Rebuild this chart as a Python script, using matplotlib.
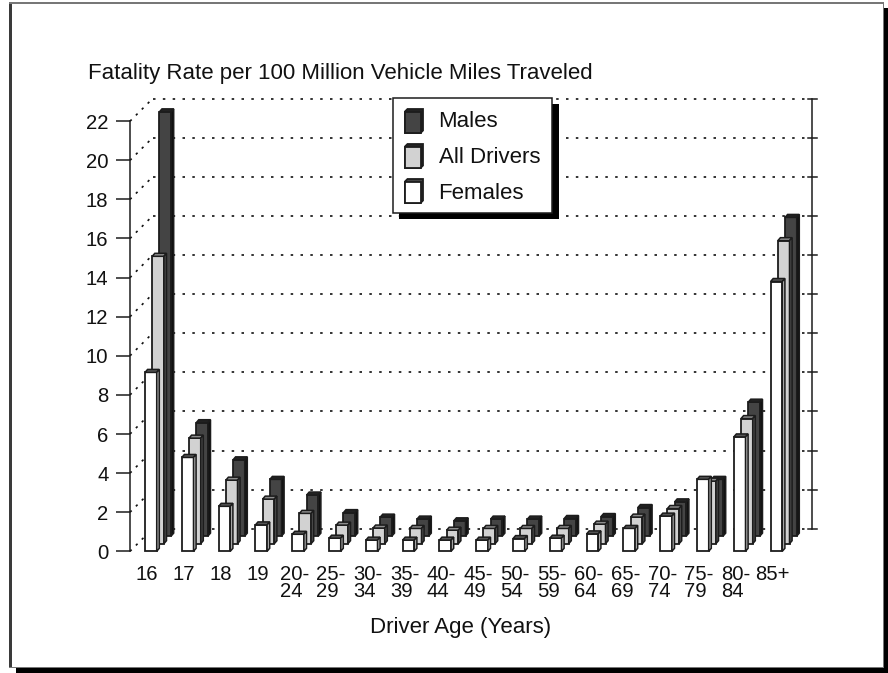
# Fatality rate by driver age, pseudo-3D bar chart
import matplotlib
matplotlib.use("Agg")
import matplotlib.pyplot as plt
from matplotlib.patches import Rectangle, Polygon
from matplotlib.transforms import Affine2D
import numpy as np

plt.rcParams["font.family"] = ["Liberation Sans", "DejaVu Sans"]

# ---------------- DATA ---------------- #
age_labels = ["16", "17", "18", "19", "20-\n24", "25-\n29", "30-\n34", "35-\n39", "40-\n44",
              "45-\n49", "50-\n54", "55-\n59", "60-\n64", "65-\n69", "70-\n74", "75-\n79",
              "80-\n84", "85+"]
females = [9.15, 4.8, 2.3, 1.35, 0.87, 0.67, 0.57, 0.57, 0.57,
           0.57, 0.65, 0.67, 0.89, 1.17, 1.8, 3.68, 5.85, 13.8]
all_drivers = [14.7, 5.4, 3.25, 2.28, 1.55, 0.95, 0.8, 0.78, 0.69,
               0.78, 0.78, 0.78, 1.0, 1.36, 1.8, 3.2, 6.4, 15.5]
males = [21.7, 5.8, 3.9, 2.9, 2.1, 1.2, 0.97, 0.87, 0.78,
         0.87, 0.87, 0.9, 1.0, 1.46, 1.75, 2.9, 6.85, 16.3]
y_ticks = list(range(0, 23, 2))

W, H = 888, 673
PITCH = 36.8      # px per age group
UNIT = 19.55      # px per rate unit
BAR_W = 11.7 / PITCH
SIDE_X, SIDE_Y = 2.6 / PITCH, 3.0 / UNIT
STEP_X, STEP_Y = 7.2 / PITCH, 7.6 / UNIT
BACK_X, BACK_Y = 22.5 / PITCH, 22.5 / UNIT
EDGE = "#1c1c1c"
TEXT_SIZE = 16
TICK_SIZE = 14.6

fig = plt.figure(figsize=(W / 100, H / 100), dpi=100)
px = Affine2D().scale(1 / W, -1 / H).translate(0, 1) + fig.transFigure


def box(x0, y0, x1, y1, fc, ec="none", lw=0, z=-1):
    fig.add_artist(Rectangle((x0, y0), x1 - x0, y1 - y0, transform=px, fc=fc, ec=ec, lw=lw, zorder=z))


def label(x, y, s, z=6, **kw):
    fig.text(x, y, s, transform=px, fontsize=TEXT_SIZE, color="#111111", va="center", zorder=z, **kw)


# frame and its shadow
box(16, 8, 888, 673, "black", z=-3)
box(9, 2, 883.5, 668, "white", z=-2)
box(9, 2, 12, 668, "#3a3a3a")
box(9, 2, 883.5, 3.5, "#777777")
box(882.5, 2, 883.5, 668, "#777777")
box(9, 666.8, 883.5, 668, "#777777")

# ---------------- CHART ---------------- #
left, right, bottom, top = 130, 812, 551.3, 551.3 - 22 * UNIT
ax = fig.add_axes([left / W, 1 - bottom / H, (right - left) / W, (bottom - top) / H])
ax.patch.set_visible(False)
ax.set_xlim((left - 145) / PITCH, (right - 145) / PITCH)
ax.set_ylim(0, 22)
for name in ["top", "right", "bottom"]:
    ax.spines[name].set_visible(False)
ax.spines["left"].set_linewidth(1.1)
ax.spines["left"].set_color(EDGE)

xlo, xhi = ax.get_xlim()
for v in y_ticks:
    # dotted floor/wall lines running from the front axis to the back wall
    ax.plot([xlo, xlo + BACK_X], [v, v + BACK_Y], color="#111111", lw=1.2,
            dashes=(1.4, 3.6), clip_on=False, zorder=1)
    ax.plot([xlo + BACK_X, xhi], [v + BACK_Y, v + BACK_Y], color="#111111", lw=1.2,
            dashes=(1.5, 4.4), clip_on=False, zorder=1)
    ax.plot([xhi - 4 / PITCH, xhi + 5 / PITCH], [v + BACK_Y, v + BACK_Y], color=EDGE, lw=1.1,
            clip_on=False, zorder=1)
ax.plot([xhi, xhi], [BACK_Y, 22 + BACK_Y], color=EDGE, lw=1.1, clip_on=False, zorder=1)

series = [(males, 2, "#444444", "#222222", "#111111"),
          (all_drivers, 1, "#d2d2d2", "#8c8c8c", "#4a4a4a"),
          (females, 0, "white", "#555555", "#b0b0b0")]

z = 2
for g in range(len(age_labels)):
    for values, k, face, top_c, side_c in series:
        x0 = g + k * STEP_X
        y0 = k * STEP_Y
        v = values[g]
        ax.bar(x0, v, BAR_W, bottom=y0, align="edge", color=face, edgecolor=EDGE,
               linewidth=1.3, zorder=z, clip_on=False)
        y1 = y0 + v
        x1 = x0 + BAR_W
        ax.add_patch(Polygon([(x0, y1), (x0 + SIDE_X, y1 + SIDE_Y), (x1 + SIDE_X, y1 + SIDE_Y), (x1, y1)],
                             fc=top_c, ec=EDGE, lw=1.1, zorder=z, clip_on=False))
        ax.add_patch(Polygon([(x1, y0), (x1 + SIDE_X, y0 + SIDE_Y), (x1 + SIDE_X, y1 + SIDE_Y), (x1, y1)],
                             fc=side_c, ec=EDGE, lw=1.1, zorder=z, clip_on=False))
        z += 1

ax.set_yticks(y_ticks)
ax.tick_params(axis="y", length=10, width=1.1, color=EDGE, pad=5.5, labelsize=TICK_SIZE, labelcolor="#111111")
ax.set_xticks(np.arange(len(age_labels)) + 2 / PITCH)
ax.set_xticklabels(age_labels, fontsize=TICK_SIZE, color="#111111", linespacing=0.88, ma="left")
ax.tick_params(axis="x", length=0, pad=10)

label(88, 73, "Fatality Rate per 100 Million Vehicle Miles Traveled", ha="left")
label(461, 627, "Driver Age (Years)", ha="center")

# ---------------- LEGEND ---------------- #
box(399, 104, 559, 219, "black", z=4)
box(393, 97.5, 552, 212.5, "white", ec=EDGE, lw=1.1, z=5)
swatches = [("Males", 109, 121.5, "#444444", "#222222"),
            ("All Drivers", 144, 157.5, "#d2d2d2", "#222222"),
            ("Females", 179, 193.5, "white", "#444444")]
for name, sy, ty, face, back_c in swatches:
    fig.add_artist(Polygon([(405, sy + 2.5), (407.5, sy), (423, sy), (423, sy + 21.5), (420.5, sy + 24), (405, sy + 24)],
                           transform=px, fc=back_c, ec=EDGE, lw=1.3, zorder=6))
    fig.add_artist(Polygon([(405, sy + 2.5), (420.5, sy + 2.5), (420.5, sy + 24), (405, sy + 24)],
                           transform=px, fc=face, ec=EDGE, lw=1.3, zorder=6))
    label(438.5, ty, name, ha="left", z=7)

fig.savefig("out.png", dpi=100)
